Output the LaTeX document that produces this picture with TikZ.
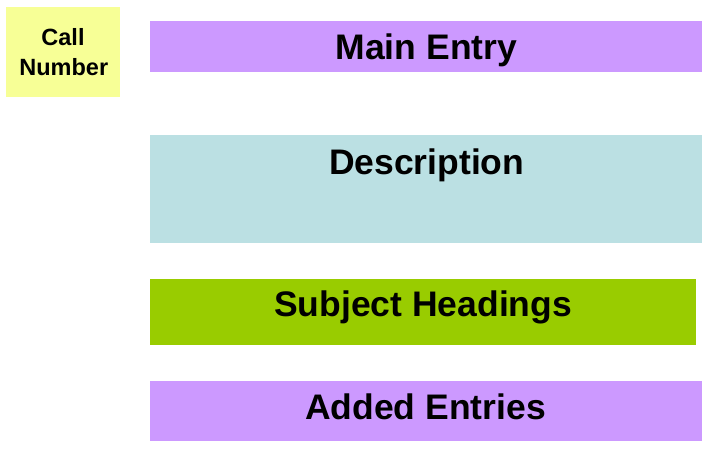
\documentclass[tikz,border=0pt]{standalone}
\usepackage{fontspec}
\setmainfont{Liberation Sans}
\definecolor{cyel}{HTML}{F7FF96}
\definecolor{cpur}{HTML}{CC99FF}
\definecolor{cblu}{HTML}{BBE0E3}
\definecolor{cgrn}{HTML}{99CC00}
\begin{document}
\begin{tikzpicture}[x=1pt,y=-1pt,
  panel/.style={fill=#1,draw=none,inner sep=0pt},
  bigtxt/.style={anchor=base,inner sep=0pt,font=\fontsize{35.5}{40}\selectfont\bfseries},
  smalltxt/.style={anchor=base,inner sep=0pt,font=\fontsize{23.5}{28}\selectfont\bfseries}]
\useasboundingbox (0,0) rectangle (710,455);
\node[panel=cyel,minimum width=114pt,minimum height=90pt] (call) at (63,52) {};
\node[panel=cpur,minimum width=552pt,minimum height=51pt] (main) at (426,46.5) {};
\node[panel=cblu,minimum width=552pt,minimum height=108pt] (desc) at (426,189) {};
\node[panel=cgrn,minimum width=546pt,minimum height=66pt] (subj) at (423,312) {};
\node[panel=cpur,minimum width=552pt,minimum height=60pt] (added) at (426,411) {};
\node[smalltxt] (callA) at (63,45.7) {Call};
\node[smalltxt] (callB) at (63.8,75) {Number};
\node[bigtxt] (mainT) at (426.4,59.3) {Main Entry};
\node[bigtxt] (descT) at (426.7,174) {Description};
\node[bigtxt] (subjT) at (423.2,316.7) {Subject Headings};
\node[bigtxt] (addedT) at (425.5,419) {Added Entries};
\end{tikzpicture}
\end{document}
